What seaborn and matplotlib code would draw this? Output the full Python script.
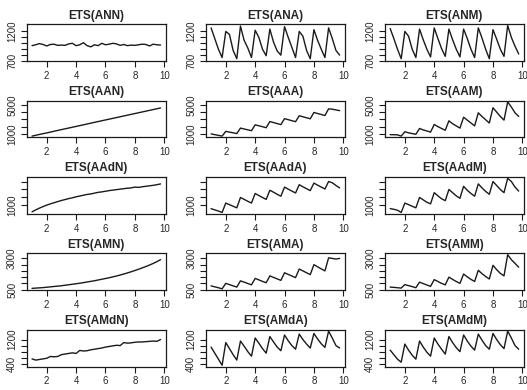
import numpy as np
import pandas as pd
import matplotlib
matplotlib.use("Agg")
import matplotlib.pyplot as plt
import seaborn as sns

# quarterly time index, 1.00 .. 9.75
quarters = [1 + q / 4 for q in range(36)]

titles = ["ETS(ANN)", "ETS(ANA)", "ETS(ANM)",
          "ETS(AAN)", "ETS(AAA)", "ETS(AAM)",
          "ETS(AAdN)", "ETS(AAdA)", "ETS(AAdM)",
          "ETS(AMN)", "ETS(AMA)", "ETS(AMM)",
          "ETS(AMdN)", "ETS(AMdA)", "ETS(AMdM)"]

ann = [960, 975, 995, 980, 955, 980, 985, 965, 970, 965, 990, 1000,
       960, 975, 1010, 960, 940, 975, 960, 1000, 975, 985, 1000, 990,
       965, 980, 960, 970, 965, 975, 985, 980, 955, 985, 975, 970]
ana = [1260, 1080, 900, 760, 1200, 1150, 880, 740, 1290, 1050, 920, 760,
       1220, 1100, 900, 790, 1240, 1020, 870, 800, 1280, 1100, 930, 760,
       1200, 1120, 880, 740, 1230, 1050, 900, 760, 1260, 1080, 880, 800]
anm = [1250, 1080, 900, 740, 1200, 1120, 900, 760, 1240, 1060, 900, 770,
       1260, 1080, 910, 780, 1240, 1060, 900, 770, 1240, 1080, 900, 760,
       1260, 1090, 900, 740, 1230, 1070, 900, 780, 1300, 1100, 950, 820]
aan = [700, 810, 925, 1030, 1140, 1250, 1365, 1480, 1590, 1700, 1810, 1920,
       2030, 2140, 2250, 2365, 2480, 2590, 2700, 2810, 2920, 3030, 3140, 3250,
       3360, 3470, 3580, 3690, 3800, 3910, 4020, 4130, 4240, 4350, 4460, 4570]
aaa = [1000, 900, 800, 700, 1350, 1250, 1150, 1050, 1800, 1680, 1560, 1440,
       2250, 2120, 1990, 1850, 2700, 2560, 2420, 2280, 3100, 2960, 2820, 2680,
       3500, 3360, 3220, 3080, 3950, 3810, 3670, 3530, 4450, 4400, 4300, 4200]
aam = [900, 890, 870, 700, 1300, 1150, 1050, 950, 1750, 1550, 1400, 1250,
       2300, 2000, 1750, 1500, 2800, 2400, 2100, 1800, 3300, 2900, 2500, 2100,
       3900, 3400, 2950, 2500, 4600, 4000, 3400, 2900, 5400, 4700, 3900, 3400]
aadn = [600, 720, 830, 930, 1020, 1100, 1170, 1240, 1310, 1370, 1430, 1480,
        1540, 1590, 1640, 1690, 1720, 1770, 1820, 1850, 1890, 1930, 1960, 1990,
        2020, 2050, 2080, 2100, 2150, 2130, 2170, 2200, 2230, 2260, 2300, 2350]
aada = [800, 720, 650, 560, 1150, 1050, 950, 850, 1500, 1380, 1260, 1150,
        1750, 1620, 1500, 1380, 1950, 1830, 1700, 1580, 2150, 2020, 1900, 1780,
        2300, 2170, 2050, 1930, 2400, 2270, 2150, 2030, 2500, 2420, 2250, 2100]
aadm = [800, 760, 700, 560, 1150, 1050, 950, 850, 1500, 1350, 1200, 1100,
        1800, 1600, 1420, 1300, 2000, 1800, 1600, 1450, 2200, 1950, 1750, 1580,
        2350, 2100, 1880, 1700, 2500, 2250, 2000, 1800, 2700, 2500, 2150, 1900]
amn = [600, 620, 640, 660, 690, 720, 750, 780, 810, 850, 890, 930,
       970, 1010, 1060, 1110, 1160, 1210, 1270, 1330, 1390, 1450, 1520, 1590,
       1670, 1750, 1840, 1930, 2030, 2130, 2240, 2350, 2470, 2600, 2740, 2900]
ama = [800, 720, 650, 560, 1000, 900, 800, 700, 1200, 1100, 990, 880,
       1400, 1280, 1160, 1050, 1600, 1480, 1360, 1240, 1850, 1720, 1590, 1460,
       2150, 2000, 1850, 1700, 2500, 2330, 2160, 2000, 3050, 3000, 2950, 3000]
amm = [700, 680, 650, 620, 900, 820, 740, 650, 1100, 980, 870, 760,
       1300, 1150, 1000, 880, 1500, 1320, 1150, 1000, 1750, 1520, 1320, 1150,
       2050, 1780, 1550, 1350, 2450, 2100, 1800, 1600, 3300, 2900, 2600, 2300]
amdn = [560, 520, 540, 560, 580, 640, 630, 640, 700, 720, 740, 760,
        740, 840, 820, 830, 860, 880, 900, 920, 950, 970, 990, 1010,
        1000, 1100, 1080, 1090, 1110, 1120, 1120, 1130, 1140, 1150, 1140, 1200]
amda = [950, 750, 550, 350, 1100, 900, 700, 520, 1150, 980, 800, 650,
        1250, 1080, 900, 750, 1300, 1120, 950, 830, 1350, 1160, 1000, 880,
        1380, 1200, 1050, 920, 1400, 1220, 1060, 940, 1480, 1250, 1000, 920]
amdm = [850, 700, 550, 450, 1050, 850, 680, 550, 1150, 950, 780, 650,
        1250, 1050, 880, 720, 1300, 1100, 930, 800, 1350, 1150, 980, 850,
        1380, 1180, 1000, 880, 1400, 1200, 1030, 900, 1480, 1250, 1000, 880]

series = [ann, ana, anm, aan, aaa, aam, aadn, aada, aadm,
          amn, ama, amm, amdn, amda, amdm]

# y ticks per row, and which of them carry a label
row_yticks = [[700, 800, 900, 1000, 1100, 1200],
              [1000, 2000, 3000, 4000, 5000],
              [1000, 1500, 2000, 2500],
              [500, 1000, 1500, 2000, 2500, 3000],
              [400, 600, 800, 1000, 1200]]
row_ylabels = [["700", "", "", "", "", "1200"],
               ["1000", "", "", "", "5000"],
               ["1000", "", "", ""],
               ["500", "", "", "", "", "3000"],
               ["400", "", "", "", "1200"]]
xticks = [2, 4, 6, 8, 10]

sns.set_style("white")
plt.rcParams["font.family"] = ["Liberation Sans", "DejaVu Sans"]

fig, axes = plt.subplots(5, 3, figsize=(5.27, 3.9), dpi=100, sharey="row")
fig.subplots_adjust(left=0.051, right=0.994, top=0.938, bottom=0.06,
                    wspace=0.29, hspace=1.07)

for i, ax in enumerate(axes.flat):
    row = i // 3
    df = pd.DataFrame({"t": quarters, "y": series[i]})
    sns.lineplot(data=df, x="t", y="y", ax=ax, color="#1a1a1a", linewidth=1.0)
    ax.margins(x=0.04, y=0.04)
    ax.set_title(titles[i], fontsize=8.5, fontweight="bold", pad=4)
    ax.set_xlabel("")
    ax.set_ylabel("")
    ax.set_xticks(xticks)
    ax.set_xticklabels([str(v) for v in xticks])
    ax.set_yticks(row_yticks[row])
    ax.set_yticklabels(row_ylabels[row], rotation=90, va="center")
    ax.tick_params(axis="both", which="both", direction="out", length=4,
                   width=0.8, color="#1a1a1a", labelsize=7, pad=3,
                   left=True, bottom=True, labelleft=True)
    for s in ax.spines.values():
        s.set_visible(True)
        s.set_color("#1a1a1a")
        s.set_linewidth(0.9)

fig.savefig("out.png", dpi=100)
